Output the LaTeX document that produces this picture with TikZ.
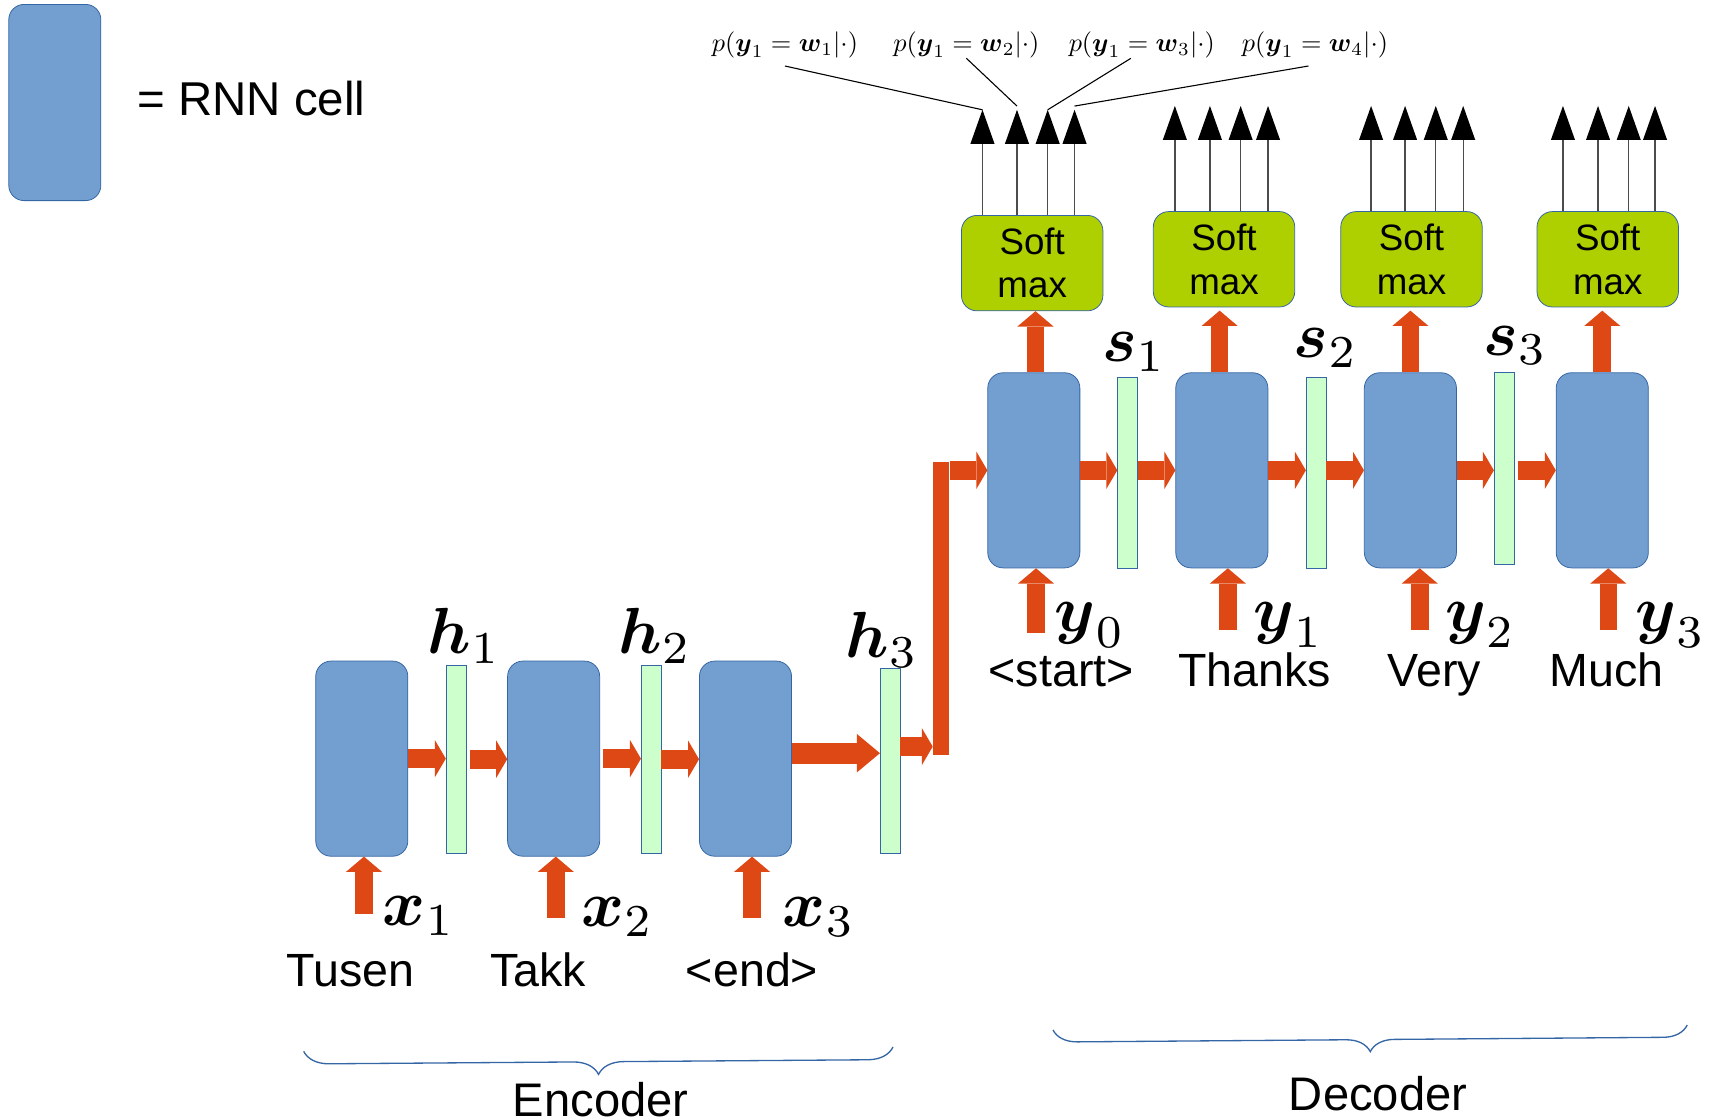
\documentclass[tikz,border=0pt]{standalone}
\usepackage{amsmath}
\usepackage{graphicx}
\usepackage{fontspec}
\setmainfont{Liberation Sans}
\usetikzlibrary{arrows.meta,calc,decorations.pathreplacing}
\definecolor{cellblue}{HTML}{729FCF}
\definecolor{cellline}{HTML}{3465A4}
\definecolor{barfill}{HTML}{CCFFCC}
\definecolor{smfill}{HTML}{AECF00}
\definecolor{arrcol}{HTML}{DD4814}
\newcommand{\bigmath}[1]{\scalebox{5.95}{\normalsize$#1$}}
\newcommand{\probmath}[1]{\scalebox{2.4}{\normalsize$#1$}}
\begin{document}
\begin{tikzpicture}[x=1pt,y=-1pt,
  cell/.style={draw=cellline, fill=cellblue, rounded corners=14pt, minimum width=84pt, minimum height=178pt, inner sep=0pt, line width=0.7pt},
  statebar/.style={draw=cellline, fill=barfill, minimum width=18pt, inner sep=0pt, line width=0.7pt},
  smbox/.style={draw=cellline, fill=smfill, rounded corners=14pt, minimum width=129pt, minimum height=87pt, inner sep=0pt, line width=0.7pt, align=center, font=\fontsize{33.5}{39.5}\selectfont},
  flow/.style={draw=arrcol, line width=17pt, -{Triangle[length=10pt,width=34pt,line width=0pt]}},
  flowbig/.style={draw=arrcol, line width=19pt, -{Triangle[length=21pt,width=35pt,line width=0pt]}},
  flowup/.style={draw=arrcol, line width=16pt, -{Triangle[length=14pt,width=33pt,line width=0pt]}},
  probe/.style={draw=black!70, line width=1.2pt, -{Triangle[length=31pt,width=22pt,line width=0pt,color=black]}},
  leader/.style={draw=black, line width=1pt},
  word/.style={anchor=base, inner sep=0pt, font=\fontsize{42.5}{50}\selectfont},
  mathlab/.style={anchor=base west, inner sep=0pt},
  plab/.style={inner sep=0pt},
  bracestyle/.style={draw=cellline, line width=1.2pt, decorate, decoration={brace, mirror, amplitude=23pt}}
]
\useasboundingbox (0,0) rectangle (1568,1021);

% legend
\node[cell, minimum height=179pt] (legend) at (50,93.5) {};
\node[anchor=base west, inner sep=0pt, font=\fontsize{43.3}{50}\selectfont] (legtext) at (125,105) {= RNN cell};

% encoder
\node[cell] (c1) at (330,692) {};
\node[cell] (c2) at (505,692) {};
\node[cell] (c3) at (680,692) {};
\node[statebar, minimum height=171pt] (h1) at (416,692.5) {};
\node[statebar, minimum height=171pt] (h2) at (594,692.5) {};
\node[statebar, minimum height=168pt] (h3) at (812,694) {};

% decoder
\node[cell] (d1) at (943,429) {};
\node[cell] (d2) at (1114.5,429) {};
\node[cell] (d3) at (1286.5,429) {};
\node[cell] (d4) at (1461.5,429) {};
\node[statebar, minimum height=174pt] (s1) at (1028.5,431) {};
\node[statebar, minimum height=174pt] (s2) at (1200.5,431) {};
\node[statebar, minimum height=175pt] (s3) at (1372,427.5) {};

% softmax
\node[smbox] (sm1) at (941.5,240) {Soft\\max};
\node[smbox] (sm2) at (1116.5,236.5) {Soft\\max};
\node[smbox] (sm3) at (1287.5,236.5) {Soft\\max};
\node[smbox] (sm4) at (1466.5,236.5) {Soft\\max};

% elbow bar
\node[fill=arrcol, minimum width=15pt, minimum height=268pt, inner sep=0pt] (bend) at (858.5,555) {};

% encoder arrows
\draw[flow] (c1.east) -- (c1.east -| h1.west);
\draw[flow] ($(h1.east)+(3,0)$) -- (h1.east -| c2.west);
\draw[flow] ($(c2.east)+(3,0)$) -- (c2.east -| h2.west);
\draw[flow] (h2.east) -- (h2.east -| c3.west);
\coordinate (e0) at ($(c3.east)+(0,-5)$);
\draw[flowbig] (e0) -- (e0 -| h3.west);
\coordinate (e1) at ($(h3.east)+(0,-13)$);
\draw[flow] (e1) -- (e1 -| bend.west);
\draw[flow] (bend.east |- d1.west) -- (d1.west);

% decoder arrows
\draw[flow] (d1.east) -- (d1.east -| s1.west);
\draw[flow] (s1.east |- d2.west) -- (d2.west);
\draw[flow] (d2.east) -- (d2.east -| s2.west);
\draw[flow] (s2.east |- d3.west) -- (d3.west);
\draw[flow] (d3.east) -- (d3.east -| s3.west);
\draw[flow] ($(s3.east |- d4.west)+(3,0)$) -- (d4.west);

% input arrows
\coordinate (i1) at (332,834);
\coordinate (i2) at (507,837);
\coordinate (i3) at (686,837);
\coordinate (j0) at (945,577.5);
\coordinate (j1) at (1120,575);
\coordinate (j2) at (1295,575);
\coordinate (j3) at (1467,575);
\draw[flowup] (i1) -- (i1 |- c1.south);
\draw[flowup] (i2) -- (i2 |- c2.south);
\draw[flowup] (i3) -- (i3 |- c3.south);
\draw[flowup] (j0) -- (j0 |- d1.south);
\draw[flowup] (j1) -- (j1 |- d2.south);
\draw[flowup] (j2) -- (j2 |- d3.south);
\draw[flowup] (j3) -- (j3 |- d4.south);

% to softmax
\draw[flowup] ($(d1.north)+(1.5,0)$) -- ($(d1.north |- sm1.south)+(1.5,0)$);
\draw[flowup] ($(d2.north)+(-2,0)$) -- ($(d2.north |- sm2.south)+(-2,3)$);
\draw[flowup] (d3.north) -- ($(d3.north |- sm3.south)+(0,3)$);
\draw[flowup] (d4.north) -- ($(d4.north |- sm4.south)+(0,3)$);

% softmax outputs
\foreach \sm/\a/\b/\c/\d in {sm1/19.5/51/79/103.5, sm2/20/52/80/105, sm3/28/59/87/112, sm4/24/56/84/108} {
  \foreach \dx [count=\k] in {\a,\b,\c,\d} {
    \coordinate (\sm-b\k) at ($(\sm.north west)+(\dx,0)$);
    \coordinate (\sm-t\k) at ($(\sm-b\k)+(0,-96)$);
    \draw[probe] (\sm-b\k) -- (\sm-t\k);
  }
}

% probability labels
\node[plab] (p1) at (716,41) {\probmath{p(\boldsymbol{y}_1=\boldsymbol{w}_1|\cdot)}};
\node[plab] (p2) at (881.5,41) {\probmath{p(\boldsymbol{y}_1=\boldsymbol{w}_2|\cdot)}};
\node[plab] (p3) at (1041.5,41) {\probmath{p(\boldsymbol{y}_1=\boldsymbol{w}_3|\cdot)}};
\node[plab] (p4) at (1199.5,41) {\probmath{p(\boldsymbol{y}_1=\boldsymbol{w}_4|\cdot)}};
\draw[leader] ($(p1.south)+(0,7)$) -- (sm1-t1);
\draw[leader] (p2.south) -- ($(sm1-t2)+(0,-3.4)$);
\draw[leader] ($(p3.south)+(-10,0)$) -- (sm1-t3);
\draw[leader] ($(p4.south)+(-6,7)$) -- ($(sm1-t4)+(0,-3.4)$);

% math labels
\node[mathlab] (lh1) at (390,596) {\bigmath{\boldsymbol{h}_1}};
\node[mathlab] (lh2) at (564,596) {\bigmath{\boldsymbol{h}_2}};
\node[mathlab] (lh3) at (771,600) {\bigmath{\boldsymbol{h}_3}};
\node[mathlab] (lx1) at (349,844) {\bigmath{\boldsymbol{x}_1}};
\node[mathlab] (lx2) at (530,845) {\bigmath{\boldsymbol{x}_2}};
\node[mathlab] (lx3) at (714,845) {\bigmath{\boldsymbol{x}_3}};
\node[mathlab] (ly0) at (962,576) {\bigmath{\boldsymbol{y}_0}};
\node[mathlab] (ly1) at (1143,576) {\bigmath{\boldsymbol{y}_1}};
\node[mathlab] (ly2) at (1318,576) {\bigmath{\boldsymbol{y}_2}};
\node[mathlab] (ly3) at (1491.5,576) {\bigmath{\boldsymbol{y}_3}};
\node[mathlab] (ls1) at (1005,330) {\bigmath{\boldsymbol{s}_1}};
\node[mathlab] (ls2) at (1180,326) {\bigmath{\boldsymbol{s}_2}};
\node[mathlab] (ls3) at (1353,324) {\bigmath{\boldsymbol{s}_3}};

% words
\node[word] (w1) at (319.7,900) {Tusen};
\node[word] (w2) at (491,900) {Takk};
\node[word] (w3) at (686,900) {<end>};
\node[word] (v0) at (968,626) {<start>};
\node[word] (v1) at (1144.5,626) {Thanks};
\node[word] (v2) at (1308.5,626) {Very};
\node[word] (v3) at (1465.5,626) {Much};

% braces
\coordinate (eb1) at (277,959);
\coordinate (eb2) at (814.6,955);
\coordinate (db1) at (960.5,939.5);
\coordinate (db2) at (1539,935);
\draw[bracestyle] (eb1) -- (eb2);
\draw[bracestyle, decoration={brace, mirror, amplitude=22pt}] (db1) -- (db2);
\node[word, font=\fontsize{43}{50}\selectfont] (enc) at (548,1018) {Encoder};
\node[word, font=\fontsize{43}{50}\selectfont] (dec) at (1257,1012.5) {Decoder};
\end{tikzpicture}
\end{document}
